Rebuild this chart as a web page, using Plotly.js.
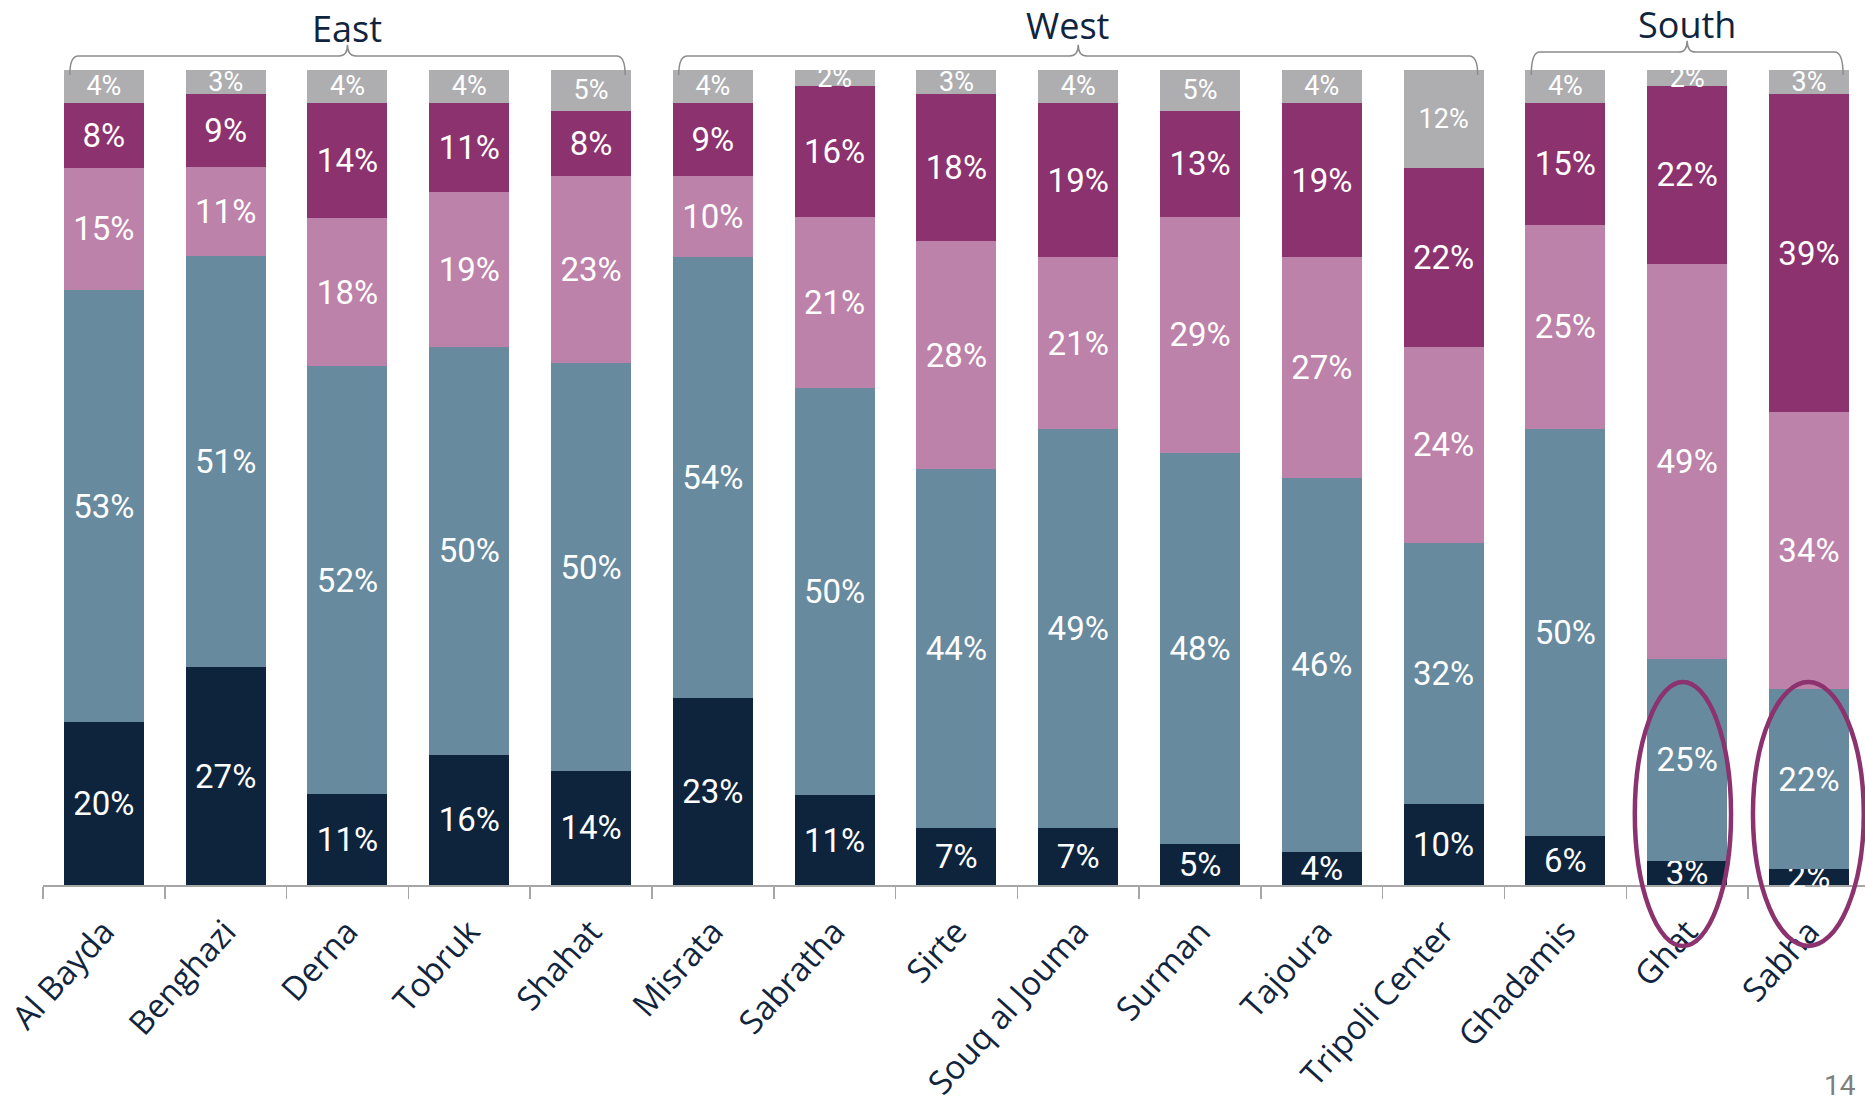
<!DOCTYPE html>
<html>
<head>
<meta charset="utf-8">
<script src="https://cdn.plot.ly/plotly-3.0.1.min.js"></script>
<style>html,body{margin:0;padding:0;background:#fff;overflow:hidden}#chart{width:1865px;height:1102px}</style>
</head>
<body>
<div id="chart"></div>
<script>
// ---- data ----
const categories = ['Al Bayda','Benghazi','Derna','Tobruk','Shahat','Misrata','Sabratha','Sirte','Souq al Jouma','Surman','Tajoura','Tripoli Center','Ghadamis','Ghat','Sabha'];
// stacked from bottom to top
const seriesNavy   = [20,27,11,16,14,23,11, 7, 7, 5, 4,10, 6, 3, 2];
const seriesBlue   = [53,51,52,50,50,54,50,44,49,48,46,32,50,25,22];
const seriesPink   = [15,11,18,19,23,10,21,28,21,29,27,24,25,49,34];
const seriesPurple = [ 8, 9,14,11, 8, 9,16,18,19,13,19,22,15,22,39];
const seriesGray   = [ 4, 3, 4, 4, 5, 4, 2, 3, 4, 5, 4,12, 4, 2, 3];

const groupNames = ['East','West','South'];
const groupFirst = [0, 5, 12];
const groupLast  = [4, 11, 14];

const highlighted = ['Ghat','Sabha'];
const pageNumber = '14';

// ---- styles ----
const colors = ['#0E243D','#678A9E','#BC82A9','#8C326E','#AEAEB0'];
const NAVY = '#10243E';
const LABEL_FONT = 'Roboto, "Open Sans", sans-serif';

const series = [seriesNavy, seriesBlue, seriesPink, seriesPurple, seriesGray];
const traces = series.map((vals, i) => ({
  type: 'bar',
  x: categories,
  y: vals,
  text: vals.map(v => v + '%'),
  textposition: 'inside',
  insidetextanchor: 'middle',
  textangle: 0,
  constraintext: 'none',
  cliponaxis: false,
  textfont: {family: LABEL_FONT, size: i === 4 ? 27 : 33, color: '#FFFFFF'},
  marker: {color: colors[i], line: {width: 0}},
  hoverinfo: 'skip'
}));

const shapes = [];
const annotations = [];
const braceY = [1.0172, 1.0172, 1.022];
const capY   = [1.031, 1.031, 1.036];
const titleY = [1.051, 1.054, 1.056];
const titleShift = [0, -0.09, 0];
const endY = 0.994, r = 0.07;
groupNames.forEach((g, i) => {
  const x0 = groupFirst[i] - 0.28, x1 = groupLast[i] + 0.28;
  const xc = (groupFirst[i] + groupLast[i]) / 2;
  const yh = braceY[i], yt = capY[i];
  const path = `M ${x0},${endY} Q ${x0},${yh} ${x0 + r},${yh} L ${xc - r},${yh} Q ${xc},${yh} ${xc},${yt} ` +
               `Q ${xc},${yh} ${xc + r},${yh} L ${x1 - r},${yh} Q ${x1},${yh} ${x1},${endY}`;
  shapes.push({type: 'path', xref: 'x', yref: 'paper', path: path, line: {color: '#8C8C8C', width: 1.5}, layer: 'above'});
  annotations.push({xref: 'x', yref: 'paper', x: xc + titleShift[i], y: titleY[i], text: g, showarrow: false,
    xanchor: 'center', yanchor: 'middle', font: {family: '"Open Sans", sans-serif', size: 36, color: NAVY}});
});

// highlight ellipses
const ellHalf = [0.395, 0.455];
const ellShift = [-0.035, -0.005];
highlighted.forEach((c, k) => {
  const idx = categories.indexOf(c);
  const xc = idx + ellShift[k];
  shapes.push({type: 'circle', xref: 'x', yref: 'paper', x0: xc - ellHalf[k], x1: xc + ellHalf[k],
    y0: -0.0748, y1: 0.249, line: {color: '#8C326E', width: 4.5}, layer: 'above'});
});

annotations.push({xref: 'paper', yref: 'paper', x: 0.996, y: -0.246, text: pageNumber, showarrow: false,
  xanchor: 'right', yanchor: 'middle', font: {family: LABEL_FONT, size: 28, color: '#7F7F7F'}});

const layout = {
  width: 1865, height: 1102,
  margin: {l: 43, r: 0, t: 70, b: 217, pad: 0},
  paper_bgcolor: '#FFFFFF', plot_bgcolor: '#FFFFFF',
  barmode: 'stack', barnorm: 'percent', bargap: 0.343,
  showlegend: false,
  xaxis: {
    type: 'category', range: [-0.5, 14.46],
    showline: true, linecolor: '#A6A6A6', linewidth: 2, layer: 'below traces',
    ticks: 'outside', tickson: 'boundaries', ticklen: 12, tickwidth: 1.5, tickcolor: '#A6A6A6',
    tickangle: -48, ticklabelstandoff: 12,
    tickfont: {family: '"Open Sans", sans-serif', size: 33, color: NAVY},
    showgrid: false, zeroline: false, fixedrange: true
  },
  yaxis: {range: [0, 100.001], visible: false, showgrid: false, zeroline: false, fixedrange: true},
  shapes: shapes,
  annotations: annotations,
  hovermode: false
};

Plotly.newPlot('chart', traces, layout, {displayModeBar: false, staticPlot: true});
</script>
</body>
</html>
